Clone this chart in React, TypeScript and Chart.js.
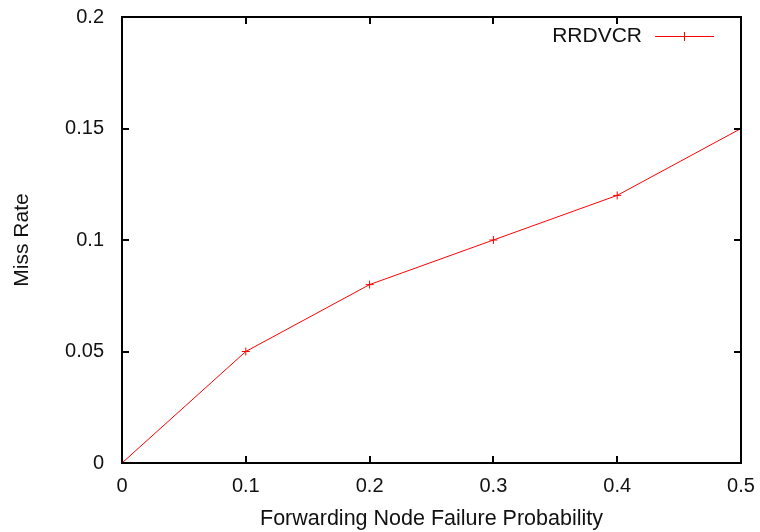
import React, { useEffect, useRef } from "react";
import { Chart, registerables } from "chart.js";

Chart.register(...registerables);

const xValues = [0, 0.1, 0.2, 0.3, 0.4, 0.5];
const missRate = [0, 0.05, 0.08, 0.1, 0.12, 0.15];
const seriesName = "RRDVCR";
const xTicks = [0, 0.1, 0.2, 0.3, 0.4, 0.5];
const yTicks = [0, 0.05, 0.1, 0.15, 0.2];
const xTitle = "Forwarding Node Failure Probability";
const yTitle = "Miss Rate";

const FONT = "'Liberation Sans', Arial, Helvetica, sans-serif";
const LINE_COLOR = "rgb(255,0,0)";

const framePlugin = {
  id: "frame",
  afterDatasetsDraw(chart: any) {
    const { ctx, chartArea } = chart;
    const { left, right, top, bottom } = chartArea;
    const xs = chart.scales.x;
    const ys = chart.scales.y;
    const tl = 7;
    ctx.save();
    ctx.strokeStyle = "#000";
    ctx.lineWidth = 2;
    ctx.beginPath();
    xTicks.forEach((v) => {
      const px = Math.round(xs.getPixelForValue(v));
      ctx.moveTo(px, bottom);
      ctx.lineTo(px, bottom - tl);
      ctx.moveTo(px, top);
      ctx.lineTo(px, top + tl);
    });
    yTicks.forEach((v) => {
      const py = Math.round(ys.getPixelForValue(v));
      ctx.moveTo(left, py);
      ctx.lineTo(left + tl, py);
      ctx.moveTo(right, py);
      ctx.lineTo(right - tl, py);
    });
    ctx.stroke();
    ctx.strokeRect(left, top, right - left, bottom - top);

    // legend
    const ly = top + 19;
    ctx.font = `21px ${FONT}`;
    ctx.fillStyle = "#111";
    ctx.textAlign = "right";
    ctx.textBaseline = "middle";
    ctx.fillText(seriesName, right - 99, ly);
    ctx.strokeStyle = LINE_COLOR;
    ctx.lineWidth = 1;
    ctx.beginPath();
    ctx.moveTo(right - 86, ly + 0.5);
    ctx.lineTo(right - 27, ly + 0.5);
    const cx = right - 56.5;
    ctx.moveTo(cx - 4, ly + 0.5);
    ctx.lineTo(cx + 4, ly + 0.5);
    ctx.moveTo(cx, ly - 4);
    ctx.lineTo(cx, ly + 5);
    ctx.stroke();
    ctx.restore();
  },
};

export default function App() {
  const canvasRef = useRef<HTMLCanvasElement | null>(null);

  useEffect(() => {
    const canvas = canvasRef.current;
    if (!canvas) return;
    const chart = new Chart(canvas, {
      type: "line",
      data: {
        datasets: [
          {
            label: seriesName,
            data: xValues.map((x, i) => ({ x, y: missRate[i] })),
            borderColor: LINE_COLOR,
            backgroundColor: LINE_COLOR,
            borderWidth: 1,
            pointStyle: "cross",
            pointRadius: 4,
            pointBorderWidth: 1,
            pointBorderColor: LINE_COLOR,
            tension: 0,
            fill: false,
          },
        ],
      },
      options: {
        responsive: false,
        animation: false,
        devicePixelRatio: 1,
        layout: { padding: { top: 17, right: 19, left: 0, bottom: 0 } },
        plugins: {
          legend: { display: false },
          tooltip: { enabled: false },
        },
        scales: {
          x: {
            type: "linear",
            min: 0,
            max: 0.5,
            offset: false,
            grid: { display: false },
            border: { display: false },
            afterBuildTicks: (s: any) => {
              s.ticks = xTicks.map((v) => ({ value: v }));
            },
            afterFit: (s: any) => {
              s.height = 69;
              s.paddingLeft = 0;
              s.paddingRight = 0;
            },
            ticks: {
              color: "#111",
              font: { family: FONT, size: 20 },
              padding: 3,
              maxRotation: 0,
              callback: (v: any) => String(v),
            },
            title: {
              display: true,
              text: xTitle,
              color: "#111",
              font: { family: FONT, size: 21.5, lineHeight: 1.2 },
              padding: { top: 3, bottom: 0 },
            },
          },
          y: {
            type: "linear",
            min: 0,
            max: 0.2,
            grid: { display: false },
            border: { display: false },
            afterBuildTicks: (s: any) => {
              s.ticks = yTicks.map((v) => ({ value: v }));
            },
            afterFit: (s: any) => {
              s.width = 122;
              s.paddingTop = 0;
              s.paddingBottom = 0;
            },
            ticks: {
              color: "#111",
              font: { family: FONT, size: 20 },
              padding: 10,
              callback: (v: any) => String(v),
            },
            title: {
              display: true,
              text: yTitle,
              color: "#111",
              font: { family: FONT, size: 21, lineHeight: 1.2 },
              padding: { top: 10, bottom: 0 },
            },
          },
        },
      },
      plugins: [framePlugin],
    });
    return () => chart.destroy();
  }, []);

  return (
    <div style={{ position: "absolute", left: 0, top: 0, width: 760, height: 532, background: "#fff" }}>
      <canvas ref={canvasRef} width={760} height={532} style={{ display: "block" }} />
    </div>
  );
}
